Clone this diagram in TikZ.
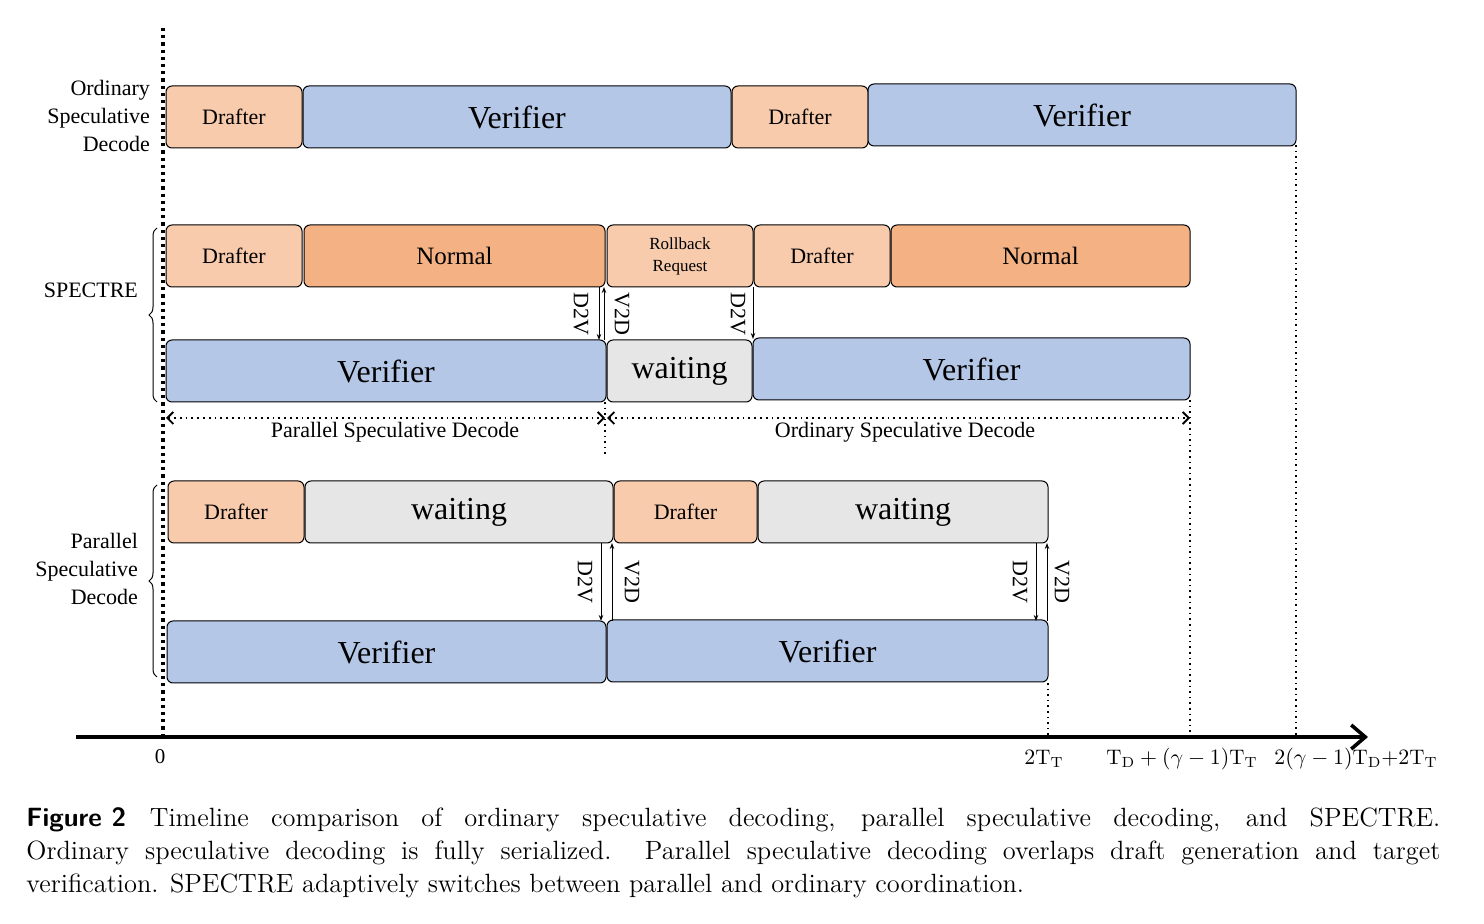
\documentclass[tikz,border=0pt]{standalone}
\usepackage{fontspec}
\usepackage{amsmath}
\usetikzlibrary{arrows.meta,decorations.pathreplacing}
\newfontfamily\tnr{Liberation Serif}
\definecolor{draftcol}{HTML}{F8CBAD}
\definecolor{normcol}{HTML}{F4B183}
\definecolor{vercol}{HTML}{B4C7E7}
\definecolor{waitcol}{HTML}{E7E6E6}
\tikzset{
  blk/.style={draw, rounded corners=3pt, line width=.5pt, minimum height=31pt,
    inner sep=0pt, outer sep=0pt, font=\tnr},
  drafter/.style={blk, fill=draftcol, minimum width=68pt, font=\tnr\fontsize{11}{12}\selectfont},
  normalb/.style={blk, fill=normcol, font=\tnr\fontsize{12.5}{13}\selectfont},
  verifier/.style={blk, fill=vercol, font=\tnr\fontsize{16}{17}\selectfont},
  waitb/.style={blk, fill=waitcol, font=\tnr\fontsize{16}{17}\selectfont},
  msg/.style={-{Stealth[length=3pt]}, line width=.5pt},
  msglab/.style={rotate=-90, font=\tnr\fontsize{11}{12}\selectfont},
  side/.style={align=right, anchor=east, font=\tnr\fontsize{11}{14}\selectfont},
  tick/.style={font=\tnr\fontsize{10.5}{11}\selectfont},
  guide/.style={dotted, line width=.8pt},
  span/.style={dotted, line width=.9pt, {Straight Barb[length=3pt]}-{Straight Barb[length=3pt]}}
}
\begin{document}
\begin{tikzpicture}[x=0.5pt, y=-0.5pt]
  \useasboundingbox (0,0) rectangle (1484,924);
  % ordinary speculative decode
  \node (o1d) at (234,117) [drafter] {Drafter};
  \node (o1v) at (517,117) [verifier, minimum width=214pt] {Verifier};
  \node (o2d) at (800,117) [drafter] {Drafter};
  \node (o2v) at (1082,115) [verifier, minimum width=214pt] {Verifier};
  % SPECTRE
  \node (s1d) at (234,256) [drafter] {Drafter};
  \node (s1n) at (454.5,256) [normalb, minimum width=150.5pt] {Normal};
  \node (srb) at (680,256) [blk, fill=draftcol, minimum width=73pt, align=center,
     font=\tnr\fontsize{8.5}{11}\selectfont] {Rollback\\Request};
  \node (s2d) at (822,256) [drafter] {Drafter};
  \node (s2n) at (1040.5,256) [normalb, minimum width=149.5pt] {Normal};
  \node (s1v) at (386,371) [verifier, minimum width=220pt] {Verifier};
  \node (swt) at (679.5,371) [waitb, minimum width=72.5pt] {waiting};
  \node (s2v) at (971.5,369) [verifier, minimum width=218.5pt] {Verifier};
  \draw[msg] (599,287) -- (599,340);
  \draw[msg] (604,340) -- (604,287);
  \draw[msg] (753,287) -- (753,339);
  \node at (581,314) [msglab] {D2V};
  \node at (622,314) [msglab] {V2D};
  \node at (738,314) [msglab] {D2V};
  % parallel speculative decode
  \node (p1d) at (236,512) [drafter] {Drafter};
  \node (p1w) at (459,512) [waitb, minimum width=154pt] {waiting};
  \node (p2d) at (685.5,512) [drafter, minimum width=71.5pt] {Drafter};
  \node (p2w) at (903,512) [waitb, minimum width=145pt] {waiting};
  \node (p1v) at (386.5,652) [verifier, minimum width=219.5pt] {Verifier};
  \node (p2v) at (827.5,651) [verifier, minimum width=220.5pt] {Verifier};
  \draw[msg] (601,543) -- (601,621);
  \draw[msg] (612,621) -- (612,543);
  \draw[msg] (1036,543) -- (1036,621);
  \draw[msg] (1047,621) -- (1047,543);
  \node at (585,582) [msglab] {D2V};
  \node at (632,582) [msglab] {V2D};
  \node at (1020,582) [msglab] {D2V};
  \node at (1062,582) [msglab] {V2D};
  % spans
  \draw[span] (166,418) -- (605,418);
  \draw[span] (607,418) -- (1190,418);
  \node at (395,432) [tick, font=\tnr\fontsize{11}{12}\selectfont] {Parallel Speculative Decode};
  \node at (905,432) [tick, font=\tnr\fontsize{11}{12}\selectfont] {Ordinary Speculative Decode};
  \draw[guide] (605,402) -- (605,455);
  % row labels
  \node at (157,116) [side] {Ordinary\\Speculative\\Decode};
  \node at (145,290) [side] {SPECTRE};
  \node at (145,569) [side] {Parallel\\Speculative\\Decode};
  \draw[decorate, decoration={brace, amplitude=4pt}, line width=.5pt] (157,402) -- (157,228);
  \draw[decorate, decoration={brace, amplitude=4pt}, line width=.5pt] (157,677) -- (157,485);
  % time axis
  \draw[line width=1.8pt, -{Straight Barb[length=7pt, width=12pt]}] (76,737) -- (1368,737);
  \draw[line width=1.6pt, dotted] (163,28) -- (163,737);
  \draw[guide] (1048,683) -- (1048,737);
  \draw[guide] (1190,400) -- (1190,737);
  \draw[guide] (1296,145) -- (1296,737);
  \node at (160,757) [tick] {0};
  \node at (1044,759) [tick] {$2\mathrm{T_T}$};
  \node at (1182,759) [tick] {$\mathrm{T_D}+(\gamma-1)\mathrm{T_T}$};
  \node at (1356,759) [tick] {$2(\gamma-1)\mathrm{T_D}{+}2\mathrm{T_T}$};
  % caption
  \node at (26,853) [anchor=west, text width=707pt, align=justify, inner sep=0pt,
     font=\fontsize{13.2}{16.5}\selectfont]
     {\mbox{\sffamily\bfseries Figure 2}\hspace{.9em}Timeline comparison of ordinary speculative decoding, parallel speculative decoding, and SPECTRE.\linebreak
      Ordinary speculative decoding is fully serialized. Parallel speculative decoding overlaps draft generation and target\linebreak
      verification. SPECTRE adaptively switches between parallel and ordinary coordination.};
\end{tikzpicture}
\end{document}
